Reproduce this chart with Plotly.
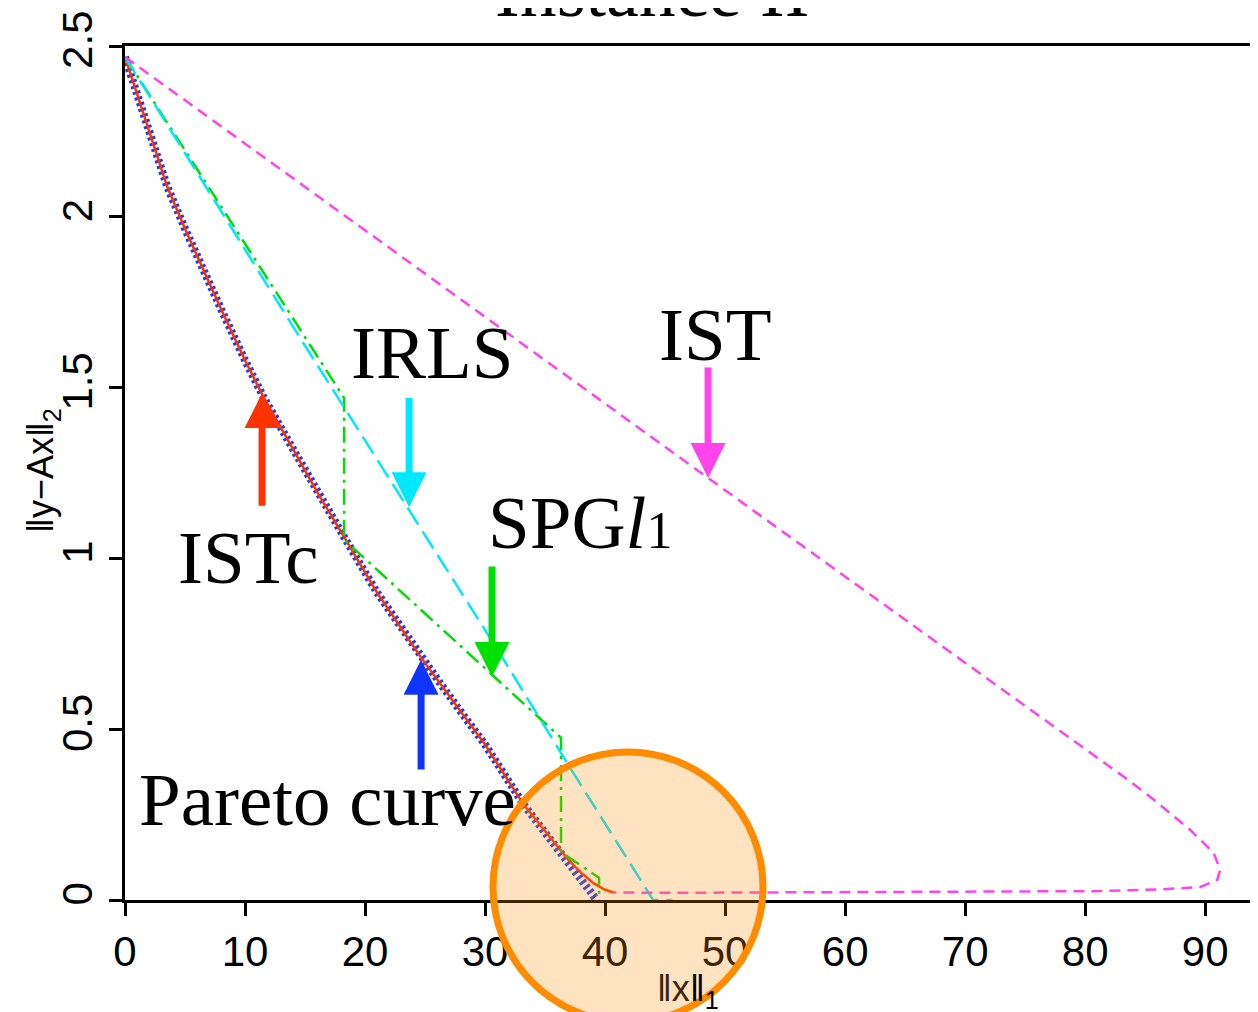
import plotly.graph_objects as go

# ---------------- data ----------------
pareto_x = [0, 1, 2, 3.5, 5, 6.25, 8, 10, 11.5, 14, 16, 18.3, 21, 24.7, 26.25, 28, 30, 33.2, 36, 38, 39.3]
pareto_y = [2.468, 2.36, 2.25, 2.09, 1.965, 1.865, 1.73, 1.58, 1.475, 1.32, 1.195, 1.06, 0.9, 0.708, 0.635, 0.55, 0.455, 0.28, 0.15, 0.06, 0.0]

istc_x = [0, 1, 2, 3.5, 5, 6.25, 8, 10, 11.5, 14, 16, 18.3, 21, 24.7, 26.25, 28, 30, 33.2, 35.8, 37, 38, 39, 40, 40.7]
istc_y = [2.468, 2.36, 2.25, 2.09, 1.965, 1.865, 1.73, 1.58, 1.475, 1.32, 1.195, 1.06, 0.9, 0.708, 0.635, 0.55, 0.455, 0.28, 0.165, 0.115, 0.08, 0.05, 0.03, 0.022]

ist_x = [0, 48.6, 83.6, 85.75, 88.75, 90.7, 91.25, 91.0, 89.6, 86.8, 81.25, 75, 60, 53.6, 45, 40.7]
ist_y = [2.468, 1.235, 0.351, 0.293, 0.205, 0.138, 0.088, 0.059, 0.038, 0.032, 0.026, 0.025, 0.024, 0.023, 0.021, 0.022]

irls_x = [0, 14.6, 28.2, 31, 37.3, 44.0, 45.6]
irls_y = [2.468, 1.645, 0.89, 0.735, 0.375, 0.0, 0.0]

spg_x = [0, 18.25, 18.25, 36.33, 36.33, 39.5, 39.5]
spg_y = [2.468, 1.47, 1.055, 0.475, 0.14, 0.065, 0.0]

x_ticks = [0, 10, 20, 30, 40, 50, 60, 70, 80, 90]
y_ticks = [0, 0.5, 1, 1.5, 2, 2.5]
y_tick_text = ["0", "0.5", "1", "1.5", "2", "2.5"]

# label text, positions (data coords) and arrows (tail -> tip)
labels = ["IST", "IRLS", "SPG<i>l</i><span style='font-size:52px'>1</span>", "ISTc", "Pareto curve"]
label_x = [49.17, 25.58, 37.9, 10.33, 16.83]
label_y = [1.654, 1.604, 1.104, 1.004, 0.293]

arrow_colors = ["#FF44EE", "#00E8FF", "#00E000", "#FF3300", "#1034FF"]
arrow_tail_x = [48.58, 23.67, 30.58, 11.42, 24.67]
arrow_tail_y = [1.563, 1.475, 0.981, 1.150, 0.378]
arrow_tip_x = [48.58, 23.67, 30.58, 11.42, 24.67]
arrow_tip_y = [1.235, 1.150, 0.653, 1.484, 0.703]

# ---------------- figure ----------------
fig = go.Figure()

fig.add_trace(go.Scatter(x=pareto_x, y=pareto_y, mode="lines",
                         line=dict(color="#1E3CF0", width=8, dash="3px,3px"),
                         showlegend=False))
fig.add_trace(go.Scatter(x=istc_x, y=istc_y, mode="lines",
                         line=dict(color="#FF3300", width=2.5),
                         showlegend=False))
fig.add_trace(go.Scatter(x=spg_x, y=spg_y, mode="lines",
                         line=dict(color="#00DD00", width=2.5, dash="16px,6px,3px,6px"),
                         showlegend=False))
fig.add_trace(go.Scatter(x=irls_x, y=irls_y, mode="lines",
                         line=dict(color="#00E8FF", width=2.5, dash="20px,8px"),
                         showlegend=False))
fig.add_trace(go.Scatter(x=ist_x, y=ist_y, mode="lines",
                         line=dict(color="#FF44EE", width=2.5, dash="11px,7px"),
                         showlegend=False))

annotations = []
for t, x, y in zip(labels, label_x, label_y):
    annotations.append(dict(x=x, y=y, xref="x", yref="y", text=t, showarrow=False,
                            xanchor="center", yanchor="middle",
                            font=dict(family="Liberation Serif", size=75, color="black")))
for c, tx, ty, hx, hy in zip(arrow_colors, arrow_tail_x, arrow_tail_y, arrow_tip_x, arrow_tip_y):
    annotations.append(dict(x=hx, y=hy, ax=tx, ay=ty, xref="x", yref="y", axref="x", ayref="y",
                            text="", showarrow=True, arrowhead=2, arrowsize=1.0,
                            arrowwidth=7, arrowcolor=c, standoff=0))

# title (cut off at top)
annotations.append(dict(x=0.4652, y=1.0142, xref="paper", yref="paper", text="Instance II",
                        showarrow=False, xanchor="center", yanchor="bottom",
                        font=dict(family="Liberation Serif", size=74, color="black")))
# axis titles
annotations.append(dict(x=0.497, y=-0.107, xref="paper", yref="paper",
                        text="<span style='color:#40250a'>‖x</span>‖<sub>1</sub>",
                        showarrow=False, xanchor="center", yanchor="middle",
                        font=dict(family="Liberation Sans, DejaVu Sans", size=36, color="black")))
annotations.append(dict(x=-0.0724, y=0.5035, xref="paper", yref="paper",
                        text="‖y−Ax‖<sub>2</sub>", textangle=-90,
                        showarrow=False, xanchor="center", yanchor="middle",
                        font=dict(family="Liberation Sans, DejaVu Sans", size=36, color="black")))

# page body has an 8px margin, so the figure is 8px smaller and margins 8px tighter
fig.update_layout(
    width=1250, height=1004,
    margin=dict(l=117, r=0, t=38, b=112),
    paper_bgcolor="white", plot_bgcolor="white",
    annotations=annotations,
    shapes=[dict(type="circle", xref="paper", yref="paper",
                 x0=0.3248, x1=0.5631, y0=-0.1429, y1=0.1733,
                 line=dict(color="#FF8C00", width=7),
                 fillcolor="rgba(255,140,0,0.25)", layer="above")],
    xaxis=dict(range=[0, 94.4], showline=True, linewidth=3, linecolor="black", mirror=True,
               ticks="outside", ticklen=13, tickwidth=3, tickcolor="black",
               tickvals=x_ticks, showgrid=False, zeroline=False,
               tickfont=dict(family="Liberation Sans", size=42, color="black")),
    yaxis=dict(range=[0, 2.5], showline=True, linewidth=3, linecolor="black",
               ticks="outside", ticklen=13, tickwidth=3, tickcolor="black",
               tickvals=y_ticks, ticktext=y_tick_text, tickangle=-90,
               showgrid=False, zeroline=False,
               tickfont=dict(family="Liberation Sans", size=42, color="black")),
)

fig.write_html("out.html")
